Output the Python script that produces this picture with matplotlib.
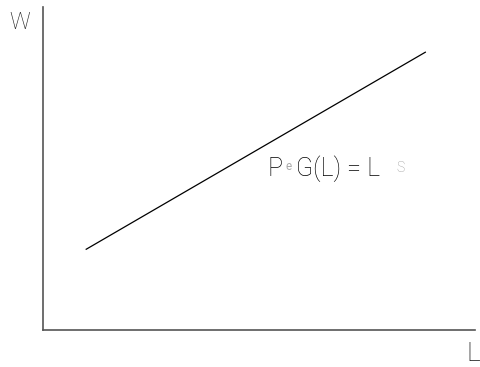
import matplotlib
matplotlib.use("Agg")
import matplotlib.pyplot as plt

L_vals = [1.0, 8.85]
W_vals = [2.5, 8.6]
x_label = "L"
y_label = "W"

plt.rcParams['font.family'] = ['Roboto', 'DejaVu Sans']

fig = plt.figure(figsize=(4.8, 3.67), dpi=100)
ax = fig.add_axes([43/480, 1 - 330/367, (475-43)/480, (330-7)/367])
ax.plot(L_vals, W_vals, color='black', linewidth=0.9)
ax.set_xlim(0, 10)
ax.set_ylim(0, 10)
ax.set_xticks([])
ax.set_yticks([])
for s in ['top', 'right']:
    ax.spines[s].set_visible(False)
for s in ['left', 'bottom']:
    ax.spines[s].set_color('#555555')
    ax.spines[s].set_linewidth(1.2)

def px(x, y):
    return x/480, 1 - y/367

fig.text(*px(9, 29), y_label, fontsize=16.5, fontweight='light', color='#222222', ha='left', va='baseline')
fig.text(*px(466, 361), x_label, fontsize=19, fontweight='light', color='#111111', ha='left', va='baseline')

# formula text
fig.text(*px(268, 176), "P", fontsize=18, fontweight='light', color='#000000', va='baseline')
fig.text(*px(285, 170), "e", fontsize=8.5, fontweight='normal', color='#aaaaaa', va='baseline')
fig.text(*px(296, 176), "G(L) = L", fontsize=18, fontweight='light', color='#000000', va='baseline')
fig.text(*px(396, 172), "S", fontsize=10, fontweight='light', color='#999999', va='baseline')

fig.savefig("out.png", dpi=100, facecolor='white')
